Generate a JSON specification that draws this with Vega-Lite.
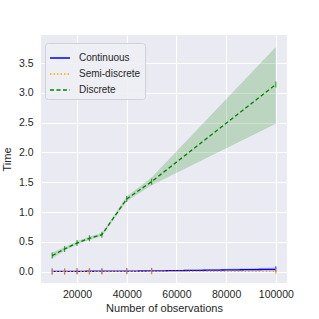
{
  "$schema": "https://vega.github.io/schema/vega-lite/v6.json",
  "autosize": "none",
  "width": 246,
  "height": 248,
  "padding": {"left": 41, "top": 35, "right": 32, "bottom": 36},
  "background": "white",
  "config": {
    "view": {"fill": "#EAEAF2", "stroke": null},
    "font": "Liberation Sans",
    "axis": {
      "domain": false, "ticks": false, "gridColor": "white", "gridWidth": 1,
      "labelColor": "#262626", "titleColor": "#262626", "labelFontSize": 10.5, "titleFontSize": 11,
      "titleFontWeight": "normal", "labelFont": "Liberation Sans", "titleFont": "Liberation Sans"
    },
    "legend": {
      "orient": "none", "legendX": 4, "legendY": 8, "title": null, "symbolType": "stroke", "symbolSize": 400, "symbolStrokeWidth": 1.3, "symbolOpacity": 1,
      "labelFontSize": 10, "labelColor": "#262626", "labelFont": "Liberation Sans", "fillColor": "rgba(238,238,245,0.9)", "strokeColor": "#d0d0d8",
      "cornerRadius": 3, "padding": 4, "rowPadding": -7, "labelOffset": 8, "symbolOffset": 0
    }
  },
  "data": {"values": [
    {"series": "Continuous", "n": 10000, "t": 0.004, "lo": 0.002, "hi": 0.006},
    {"series": "Continuous", "n": 15000, "t": 0.005, "lo": 0.003, "hi": 0.007},
    {"series": "Continuous", "n": 20000, "t": 0.006, "lo": 0.004, "hi": 0.008},
    {"series": "Continuous", "n": 25000, "t": 0.007, "lo": 0.005, "hi": 0.009},
    {"series": "Continuous", "n": 30000, "t": 0.008, "lo": 0.006, "hi": 0.010},
    {"series": "Continuous", "n": 40000, "t": 0.010, "lo": 0.007, "hi": 0.013},
    {"series": "Continuous", "n": 50000, "t": 0.012, "lo": 0.008, "hi": 0.016},
    {"series": "Continuous", "n": 100000, "t": 0.040, "lo": 0.010, "hi": 0.070},
    {"series": "Semi-discrete", "n": 10000, "t": 0.002, "lo": 0.001, "hi": 0.003},
    {"series": "Semi-discrete", "n": 15000, "t": 0.002, "lo": 0.001, "hi": 0.003},
    {"series": "Semi-discrete", "n": 20000, "t": 0.003, "lo": 0.002, "hi": 0.004},
    {"series": "Semi-discrete", "n": 25000, "t": 0.003, "lo": 0.002, "hi": 0.004},
    {"series": "Semi-discrete", "n": 30000, "t": 0.003, "lo": 0.002, "hi": 0.004},
    {"series": "Semi-discrete", "n": 40000, "t": 0.004, "lo": 0.003, "hi": 0.005},
    {"series": "Semi-discrete", "n": 50000, "t": 0.004, "lo": 0.003, "hi": 0.005},
    {"series": "Semi-discrete", "n": 100000, "t": 0.006, "lo": 0.004, "hi": 0.008},
    {"series": "Discrete", "n": 10000, "t": 0.27, "lo": 0.22, "hi": 0.32},
    {"series": "Discrete", "n": 15000, "t": 0.38, "lo": 0.35, "hi": 0.41},
    {"series": "Discrete", "n": 20000, "t": 0.48, "lo": 0.46, "hi": 0.51},
    {"series": "Discrete", "n": 25000, "t": 0.56, "lo": 0.53, "hi": 0.59},
    {"series": "Discrete", "n": 30000, "t": 0.62, "lo": 0.60, "hi": 0.65},
    {"series": "Discrete", "n": 40000, "t": 1.22, "lo": 1.18, "hi": 1.26},
    {"series": "Discrete", "n": 50000, "t": 1.51, "lo": 1.45, "hi": 1.58},
    {"series": "Discrete", "n": 100000, "t": 3.14, "lo": 2.48, "hi": 3.77}
  ]},
  "encoding": {
    "x": {"field": "n", "type": "quantitative", "scale": {"domain": [5500, 104500], "nice": false, "zero": false},
      "axis": {"values": [20000, 40000, 60000, 80000, 100000], "format": "d", "title": "Number of observations", "labelPadding": 6, "titlePadding": 3}},
    "color": {"field": "series", "type": "nominal", "scale": {"domain": ["Continuous", "Semi-discrete", "Discrete"], "range": ["#0000FF", "#FFA500", "#008000"]}}
  },
  "layer": [
    {
      "mark": {"type": "area", "opacity": 0.2},
      "encoding": {
        "y": {"field": "lo", "type": "quantitative", "scale": {"domain": [-0.19, 3.97], "nice": false, "zero": false},
          "axis": {"values": [0, 0.5, 1, 1.5, 2, 2.5, 3, 3.5], "format": ".1f", "title": "Time", "labelPadding": 8, "titlePadding": 6}},
        "y2": {"field": "hi"},
        "detail": {"field": "series"}
      }
    },
    {
      "mark": {"type": "line", "strokeWidth": 1.3},
      "encoding": {
        "y": {"field": "t", "type": "quantitative", "scale": {"domain": [-0.19, 3.97], "nice": false, "zero": false},
          "axis": {"values": [0, 0.5, 1, 1.5, 2, 2.5, 3, 3.5], "format": ".1f", "title": "Time", "labelPadding": 8, "titlePadding": 6}},
        "strokeDash": {"field": "series", "type": "nominal", "scale": {"domain": ["Continuous", "Semi-discrete", "Discrete"], "range": [[1, 0], [1.5, 2], [4, 2.5]]}}
      }
    },
    {
      "mark": {"type": "tick", "orient": "vertical", "size": 6, "thickness": 1.2},
      "encoding": {
        "y": {"field": "t", "type": "quantitative", "scale": {"domain": [-0.19, 3.97], "nice": false, "zero": false},
          "axis": {"values": [0, 0.5, 1, 1.5, 2, 2.5, 3, 3.5], "format": ".1f", "title": "Time", "labelPadding": 8, "titlePadding": 6}}
      }
    }
  ]
}
